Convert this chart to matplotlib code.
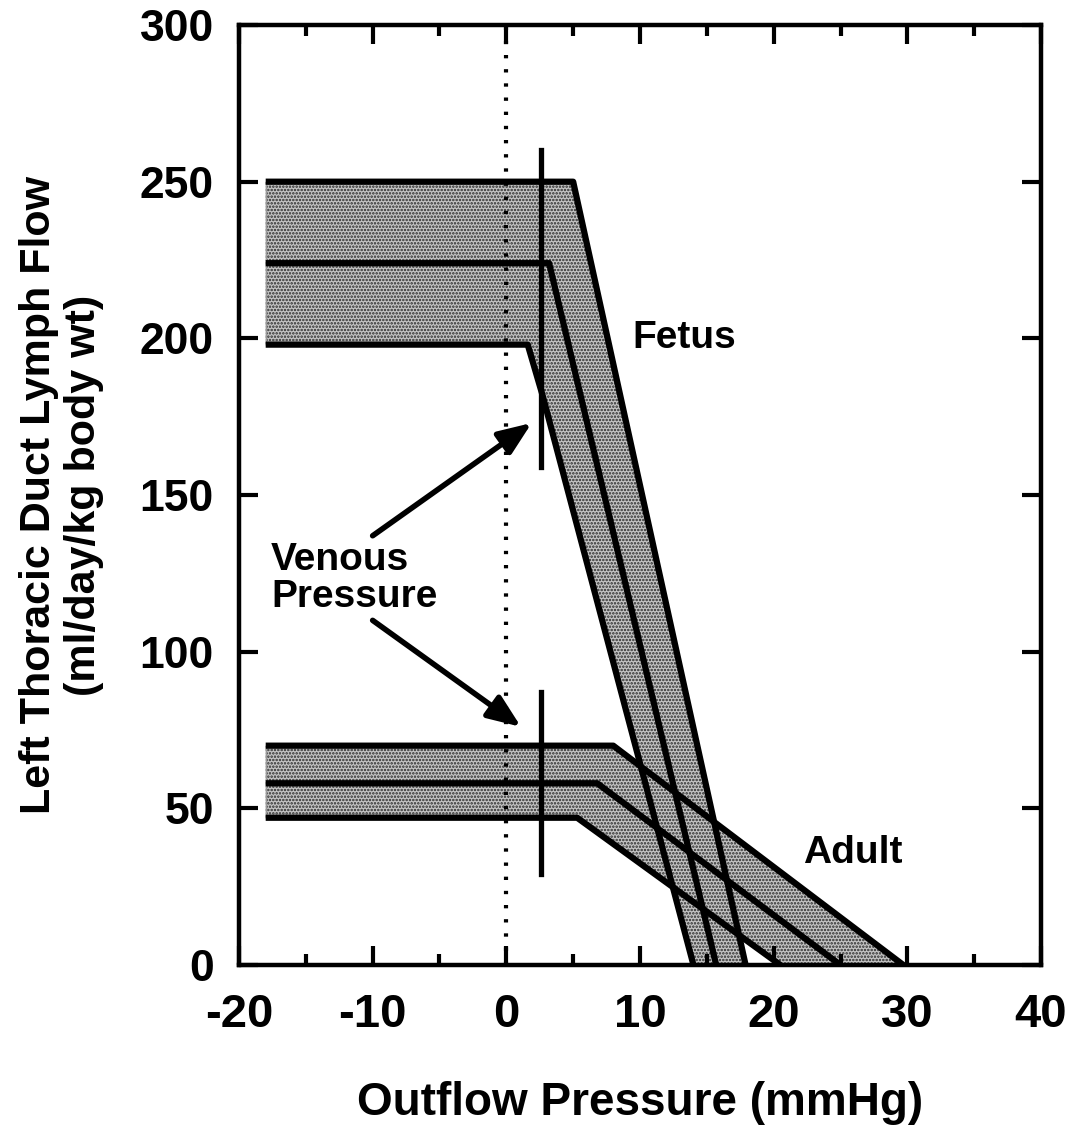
import numpy as np
import matplotlib
matplotlib.use("Agg")
import matplotlib.pyplot as plt

# ----------------------------------------
# Data
# ----------------------------------------

# Fetus band (upper edge, middle line, lower edge)
fetus_upper_x = [-18, 5.0, 17.9]
fetus_upper_y = [250, 250, 0]
fetus_mid_x = [-18, 3.2, 15.7]
fetus_mid_y = [224, 224, 0]
fetus_low_x = [-18, 1.6, 2.7, 14.0]
fetus_low_y = [198, 198, 182, 0]

# Adult band
adult_upper_x = [-18, 8.0, 29.7]
adult_upper_y = [70, 70, 0]
adult_mid_x = [-18, 6.8, 25.0]
adult_mid_y = [58, 58, 0]
adult_low_x = [-18, 5.3, 20.5]
adult_low_y = [47, 47, 0]

# Venous pressure markers (x, y range)
venous_x = 2.6
fetus_venous_y = [159, 260]
adult_venous_y = [29, 87]

x_ticks = [-20, -10, 0, 10, 20, 30, 40]
y_ticks = [0, 50, 100, 150, 200, 250, 300]

# ----------------------------------------
# Style
# ----------------------------------------
plt.rcParams['font.family'] = ['Liberation Sans', 'DejaVu Sans']
plt.rcParams['font.weight'] = 'bold'
plt.rcParams['hatch.color'] = '#2a2a2a'
plt.rcParams['hatch.linewidth'] = 1.2

fig = plt.figure(figsize=(10.74, 11.28), dpi=100)
ax = fig.add_axes([0.2225, 0.1445, 0.7468, 0.8333])

line_kw = dict(color='black', lw=4.5, solid_capstyle='butt', solid_joinstyle='round')


def draw_band(ux, uy, mx, my, lx, ly):
    px = list(ux) + list(lx)[::-1]
    py = list(uy) + list(ly)[::-1]
    ax.fill(px, py, facecolor='#c4c4c4', hatch='.....', lw=0, zorder=1)
    ax.plot(ux, uy, **line_kw, zorder=3)
    ax.plot(mx, my, **line_kw, zorder=3)
    ax.plot(lx, ly, **line_kw, zorder=3)
    # left ends of the band
    ax.plot([ux[0], lx[0]], [uy[0], ly[0]], color='#999999', lw=1, zorder=2)


draw_band(fetus_upper_x, fetus_upper_y, fetus_mid_x, fetus_mid_y,
          fetus_low_x, fetus_low_y)
draw_band(adult_upper_x, adult_upper_y, adult_mid_x, adult_mid_y,
          adult_low_x, adult_low_y)

# zero-pressure dotted line
ax.axvline(0, color='black', lw=3, ls=(0, (0.8, 2.6)), zorder=2)

# venous pressure bars
ax.plot([venous_x, venous_x], fetus_venous_y, color='black', lw=3.8, zorder=4)
ax.plot([venous_x, venous_x], adult_venous_y, color='black', lw=3.8, zorder=4)

# labels and arrows
ax.text(-17.6, 135, "Venous\nPressure", fontsize=28, fontweight='bold',
        ha='left', va='top', linespacing=1.05, zorder=5)
arrow_kw = dict(arrowstyle='-|>,head_length=0.5,head_width=0.2', lw=4,
                color='black', mutation_scale=40, shrinkA=0, shrinkB=0)
ax.annotate("", xy=(1.9, 173), xytext=(-10.0, 137), arrowprops=arrow_kw)
ax.annotate("", xy=(1.1, 76), xytext=(-10.0, 110), arrowprops=arrow_kw)

ax.text(9.4, 197, "Fetus", fontsize=28, fontweight='bold', ha='left', va='baseline')
ax.text(22.2, 32.5, "Adult", fontsize=28, fontweight='bold', ha='left', va='baseline')

# ----------------------------------------
# Axes
# ----------------------------------------
ax.set_xlim(-20, 40)
ax.set_ylim(0, 300)
ax.set_xticks(x_ticks)
ax.set_xticks(np.arange(-15, 40, 10), minor=True)
ax.set_yticks(y_ticks)
ax.set_xticklabels([str(t) for t in x_ticks], fontsize=34, fontweight='bold')
ax.set_yticklabels([str(t) for t in y_ticks], fontsize=32, fontweight='bold')

ax.tick_params(which='major', direction='in', top=True, right=True,
               length=14, width=3)
ax.tick_params(which='minor', direction='in', top=True, right=True,
               length=8, width=3)
ax.tick_params(axis='x', which='major', pad=20)
ax.tick_params(axis='y', which='major', pad=18)
for s in ax.spines.values():
    s.set_linewidth(3.2)

ax.set_xlabel("Outflow Pressure (mmHg)", fontsize=33, fontweight='bold', labelpad=32)
ax.set_ylabel("Left Thoracic Duct Lymph Flow\n(ml/day/kg body wt)", fontsize=31,
              fontweight='bold', labelpad=26, linespacing=1.15)

fig.savefig("out.png", dpi=100)
